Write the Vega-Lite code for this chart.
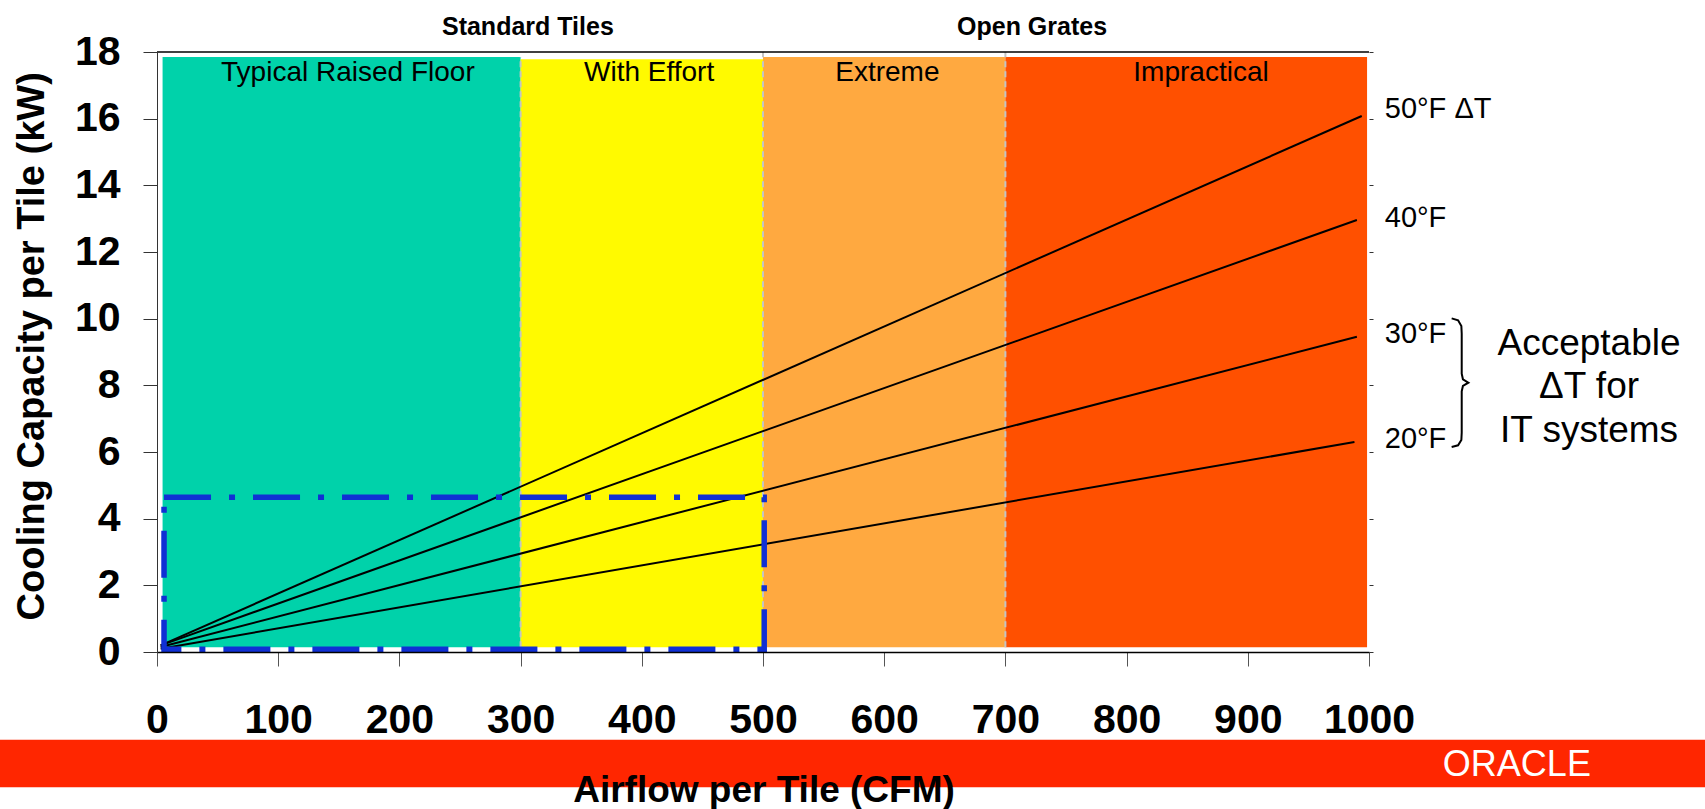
{
  "$schema": "https://vega.github.io/schema/vega-lite/v6.json",
  "width": 1212,
  "height": 600,
  "autosize": {"type": "none"},
  "padding": {"left": 157, "top": 52, "right": 336, "bottom": 157},
  "background": "white",
  "config": {"view": {"stroke": null}, "font": "Liberation Sans", "text": {"font": "Liberation Sans"}},
  "datasets": {
    "band": [{"x1": -130, "x2": 1280, "y1": -2.63, "y2": -4.06}],
    "regions": [
      {"zone": "Typical Raised Floor", "start": 4.6, "end": 300, "low": 0.14, "high": 17.85, "labelX": 157.5, "labelY": 17.14},
      {"zone": "With Effort", "start": 300, "end": 500, "low": 0.14, "high": 17.78, "labelX": 406, "labelY": 17.14},
      {"zone": "Extreme", "start": 500, "end": 700, "low": 0.14, "high": 17.85, "labelX": 602.6, "labelY": 17.14},
      {"zone": "Impractical", "start": 700, "end": 998.4, "low": 0.14, "high": 17.85, "labelX": 861.4, "labelY": 17.14}
    ],
    "separators": [
      {"cfm": 300, "low": 0.14, "high": 17.85},
      {"cfm": 500, "low": 0.14, "high": 18},
      {"cfm": 700, "low": 0.14, "high": 18}
    ],
    "topline": [{"x1": 0, "x2": 1000, "kw": 18}],
    "lines": [
      {"dt": "50", "cfm": 3, "kw": 0.2},
      {"dt": "50", "cfm": 994, "kw": 16.08},
      {"dt": "40", "cfm": 3, "kw": 0.2},
      {"dt": "40", "cfm": 990, "kw": 12.96},
      {"dt": "30", "cfm": 3, "kw": 0.15},
      {"dt": "30", "cfm": 990, "kw": 9.46},
      {"dt": "20", "cfm": 3, "kw": 0.1},
      {"dt": "20", "cfm": 988, "kw": 6.3}
    ],
    "box": [{"x1": 5.8, "x2": 501, "y1": 0.08, "y2": 4.64}],
    "lineLabels": [
      {"label": "50°F ΔT", "cfm": 1013, "kw": 16.03},
      {"label": "40°F", "cfm": 1013, "kw": 12.76},
      {"label": "30°F", "cfm": 1013, "kw": 9.27},
      {"label": "20°F", "cfm": 1013, "kw": 6.12}
    ],
    "headers": [
      {"label": "Standard Tiles", "cfm": 306, "kw": 18.52},
      {"label": "Open Grates", "cfm": 722, "kw": 18.52}
    ],
    "brace": [
      {"order": 1, "cfm": 1068.2, "kw": 10.01},
      {"order": 2, "cfm": 1073.5, "kw": 9.95},
      {"order": 3, "cfm": 1076.2, "kw": 9.78},
      {"order": 4, "cfm": 1076.5, "kw": 9.55},
      {"order": 5, "cfm": 1076.5, "kw": 8.35},
      {"order": 6, "cfm": 1077.5, "kw": 8.18},
      {"order": 7, "cfm": 1082, "kw": 8.08},
      {"order": 8, "cfm": 1077.5, "kw": 7.98},
      {"order": 9, "cfm": 1076.5, "kw": 7.82},
      {"order": 10, "cfm": 1076.5, "kw": 6.58},
      {"order": 11, "cfm": 1076.2, "kw": 6.36},
      {"order": 12, "cfm": 1073.5, "kw": 6.2},
      {"order": 13, "cfm": 1068.2, "kw": 6.15}
    ],
    "note": [{"label": "Acceptable\nΔT for\nIT systems", "cfm": 1181.5, "kw": 8.91}],
    "logo": [{"label": "ORACLE", "cfm": 1122, "kw": -3.71}]
  },
  "layer": [
    {
      "data": {"name": "band"},
      "mark": {"type": "rect", "color": "#FF2600"},
      "encoding": {
        "x": {"field": "x1", "type": "quantitative", "scale": {"domain": [0, 1000], "nice": false}, "axis": null},
        "x2": {"field": "x2"},
        "y": {"field": "y1", "type": "quantitative", "scale": {"domain": [0, 18], "nice": false}, "axis": null},
        "y2": {"field": "y2"}
      }
    },
    {
      "data": {"name": "regions"},
      "mark": {"type": "rect", "opacity": 1},
      "encoding": {
        "x": {"field": "start", "type": "quantitative", "scale": {"domain": [0, 1000], "nice": false}, "axis": null},
        "x2": {"field": "end"},
        "y": {"field": "low", "type": "quantitative", "scale": {"domain": [0, 18], "nice": false}, "axis": null},
        "y2": {"field": "high"},
        "color": {"field": "zone", "type": "nominal", "legend": null,
          "scale": {"domain": ["Typical Raised Floor", "With Effort", "Extreme", "Impractical"], "range": ["#00D2AA", "#FFFA00", "#FFA940", "#FF5000"]}}
      }
    },
    {
      "data": {"name": "separators"},
      "mark": {"type": "rule", "color": "#C4C4C4", "strokeWidth": 2, "strokeDash": [6, 4]},
      "encoding": {
        "x": {"field": "cfm", "type": "quantitative", "scale": {"domain": [0, 1000], "nice": false}, "axis": null},
        "y": {"field": "low", "type": "quantitative", "scale": {"domain": [0, 18], "nice": false}, "axis": null},
        "y2": {"field": "high"}
      }
    },
    {
      "data": {"name": "topline"},
      "mark": {"type": "rule", "color": "black", "strokeWidth": 1.5},
      "encoding": {
        "x": {"field": "x1", "type": "quantitative", "scale": {"domain": [0, 1000], "nice": false}, "axis": null},
        "x2": {"field": "x2"},
        "y": {"field": "kw", "type": "quantitative", "scale": {"domain": [0, 18], "nice": false},
          "axis": {"orient": "right", "values": [0, 2, 4, 6, 8, 10, 12, 14, 16, 18], "labels": false, "domain": false, "tickSize": 4, "tickColor": "#333333", "grid": false, "title": null}}
      }
    },
    {
      "data": {"name": "lines"},
      "mark": {"type": "line", "color": "black", "strokeWidth": 2},
      "encoding": {
        "x": {"field": "cfm", "type": "quantitative", "scale": {"domain": [0, 1000], "nice": false},
          "axis": {"orient": "bottom", "values": [0, 100, 200, 300, 400, 500, 600, 700, 800, 900, 1000], "format": "d", "title": "Airflow per Tile (CFM)",
            "titleFontSize": 37, "titleFontWeight": "bold", "titleColor": "black", "titleFont": "Liberation Sans",
            "titleX": 606.5, "titleY": 149.4, "titleBaseline": "alphabetic", "titleAlign": "center",
            "labelFontSize": 41, "labelFontWeight": "bold", "labelColor": "black", "labelFont": "Liberation Sans",
            "labelBaseline": "alphabetic", "labelPadding": 66.4, "labelFlush": false, "labelOverlap": false,
            "tickSize": 14, "tickColor": "#555555", "domainColor": "black", "domainWidth": 1.5, "grid": false, "zindex": 1}},
        "y": {"field": "kw", "type": "quantitative", "scale": {"domain": [0, 18], "nice": false},
          "axis": {"orient": "left", "values": [0, 2, 4, 6, 8, 10, 12, 14, 16, 18], "format": "d", "title": "Cooling Capacity per  Tile (kW)",
            "titleFontSize": 38, "titleFontWeight": "bold", "titleColor": "black", "titleFont": "Liberation Sans",
            "titleAngle": 270, "titleX": -113.7, "titleY": 293.8, "titleAlign": "center", "titleBaseline": "alphabetic",
            "labelFontSize": 41, "labelFontWeight": "bold", "labelColor": "black", "labelFont": "Liberation Sans",
            "labelPadding": 23, "labelFlush": false, "labelOverlap": false,
            "tickSize": 14, "tickColor": "#333333", "domainColor": "#333333", "grid": false, "zindex": 1}},
        "detail": {"field": "dt", "type": "nominal"}
      }
    },
    {
      "data": {"name": "box"},
      "mark": {"type": "rect", "filled": false, "stroke": "#1030D4", "strokeWidth": 5.5, "strokeDash": [47, 18, 6, 18]},
      "encoding": {
        "x": {"field": "x1", "type": "quantitative", "scale": {"domain": [0, 1000], "nice": false}, "axis": null},
        "x2": {"field": "x2"},
        "y": {"field": "y1", "type": "quantitative", "scale": {"domain": [0, 18], "nice": false}, "axis": null},
        "y2": {"field": "y2"}
      }
    },
    {
      "data": {"name": "regions"},
      "mark": {"type": "text", "fontSize": 28, "align": "center", "baseline": "alphabetic", "color": "black"},
      "encoding": {
        "x": {"field": "labelX", "type": "quantitative", "scale": {"domain": [0, 1000], "nice": false}, "axis": null},
        "y": {"field": "labelY", "type": "quantitative", "scale": {"domain": [0, 18], "nice": false}, "axis": null},
        "text": {"field": "zone"}
      }
    },
    {
      "data": {"name": "headers"},
      "mark": {"type": "text", "fontSize": 25, "fontWeight": "bold", "align": "center", "baseline": "alphabetic", "color": "black"},
      "encoding": {
        "x": {"field": "cfm", "type": "quantitative", "scale": {"domain": [0, 1000], "nice": false}, "axis": null},
        "y": {"field": "kw", "type": "quantitative", "scale": {"domain": [0, 18], "nice": false}, "axis": null},
        "text": {"field": "label"}
      }
    },
    {
      "data": {"name": "lineLabels"},
      "mark": {"type": "text", "fontSize": 29, "align": "left", "baseline": "alphabetic", "color": "black"},
      "encoding": {
        "x": {"field": "cfm", "type": "quantitative", "scale": {"domain": [0, 1000], "nice": false}, "axis": null},
        "y": {"field": "kw", "type": "quantitative", "scale": {"domain": [0, 18], "nice": false}, "axis": null},
        "text": {"field": "label"}
      }
    },
    {
      "data": {"name": "brace"},
      "mark": {"type": "line", "color": "black", "strokeWidth": 2, "interpolate": "linear"},
      "encoding": {
        "x": {"field": "cfm", "type": "quantitative", "scale": {"domain": [0, 1000], "nice": false}, "axis": null},
        "y": {"field": "kw", "type": "quantitative", "scale": {"domain": [0, 18], "nice": false}, "axis": null},
        "order": {"field": "order", "type": "quantitative"}
      }
    },
    {
      "data": {"name": "note"},
      "mark": {"type": "text", "fontSize": 37, "align": "center", "baseline": "alphabetic", "lineBreak": "\n", "lineHeight": 43.3, "color": "black"},
      "encoding": {
        "x": {"field": "cfm", "type": "quantitative", "scale": {"domain": [0, 1000], "nice": false}, "axis": null},
        "y": {"field": "kw", "type": "quantitative", "scale": {"domain": [0, 18], "nice": false}, "axis": null},
        "text": {"field": "label"}
      }
    },
    {
      "data": {"name": "logo"},
      "mark": {"type": "text", "fontSize": 36, "align": "center", "baseline": "alphabetic", "color": "white"},
      "encoding": {
        "x": {"field": "cfm", "type": "quantitative", "scale": {"domain": [0, 1000], "nice": false}, "axis": null},
        "y": {"field": "kw", "type": "quantitative", "scale": {"domain": [0, 18], "nice": false}, "axis": null},
        "text": {"field": "label"}
      }
    }
  ],
  "resolve": {"axis": {"x": "independent", "y": "independent"}}
}
